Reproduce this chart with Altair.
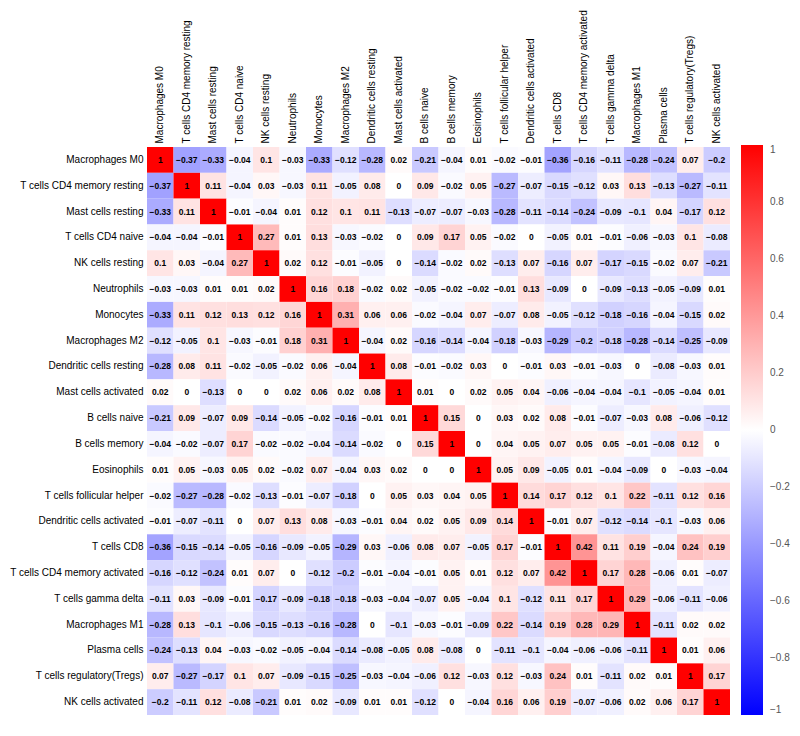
import altair as alt
import pandas as pd

cells = [
    "Macrophages M0", "T cells CD4 memory resting", "Mast cells resting", "T cells CD4 naive",
    "NK cells resting", "Neutrophils", "Monocytes", "Macrophages M2", "Dendritic cells resting",
    "Mast cells activated", "B cells naive", "B cells memory", "Eosinophils",
    "T cells follicular helper", "Dendritic cells activated", "T cells CD8",
    "T cells CD4 memory activated", "T cells gamma delta", "Macrophages M1", "Plasma cells",
    "T cells regulatory(Tregs)", "NK cells activated",
]

values = [
    [1, -0.37, -0.33, -0.04, 0.1, -0.03, -0.33, -0.12, -0.28, 0.02, -0.21, -0.04, 0.01, -0.02, -0.01, -0.36, -0.16, -0.11, -0.28, -0.24, 0.07, -0.2],
    [-0.37, 1, 0.11, -0.04, 0.03, -0.03, 0.11, -0.05, 0.08, 0, 0.09, -0.02, 0.05, -0.27, -0.07, -0.15, -0.12, 0.03, 0.13, -0.13, -0.27, -0.11],
    [-0.33, 0.11, 1, -0.01, -0.04, 0.01, 0.12, 0.1, 0.11, -0.13, -0.07, -0.07, -0.03, -0.28, -0.11, -0.14, -0.24, -0.09, -0.1, 0.04, -0.17, 0.12],
    [-0.04, -0.04, -0.01, 1, 0.27, 0.01, 0.13, -0.03, -0.02, 0, 0.09, 0.17, 0.05, -0.02, 0, -0.05, 0.01, -0.01, -0.06, -0.03, 0.1, -0.08],
    [0.1, 0.03, -0.04, 0.27, 1, 0.02, 0.12, -0.01, -0.05, 0, -0.14, -0.02, 0.02, -0.13, 0.07, -0.16, 0.07, -0.17, -0.15, -0.02, 0.07, -0.21],
    [-0.03, -0.03, 0.01, 0.01, 0.02, 1, 0.16, 0.18, -0.02, 0.02, -0.05, -0.02, -0.02, -0.01, 0.13, -0.09, 0, -0.09, -0.13, -0.05, -0.09, 0.01],
    [-0.33, 0.11, 0.12, 0.13, 0.12, 0.16, 1, 0.31, 0.06, 0.06, -0.02, -0.04, 0.07, -0.07, 0.08, -0.05, -0.12, -0.18, -0.16, -0.04, -0.15, 0.02],
    [-0.12, -0.05, 0.1, -0.03, -0.01, 0.18, 0.31, 1, -0.04, 0.02, -0.16, -0.14, -0.04, -0.18, -0.03, -0.29, -0.2, -0.18, -0.28, -0.14, -0.25, -0.09],
    [-0.28, 0.08, 0.11, -0.02, -0.05, -0.02, 0.06, -0.04, 1, 0.08, -0.01, -0.02, 0.03, 0, -0.01, 0.03, -0.01, -0.03, 0, -0.08, -0.03, 0.01],
    [0.02, 0, -0.13, 0, 0, 0.02, 0.06, 0.02, 0.08, 1, 0.01, 0, 0.02, 0.05, 0.04, -0.06, -0.04, -0.04, -0.1, -0.05, -0.04, 0.01],
    [-0.21, 0.09, -0.07, 0.09, -0.14, -0.05, -0.02, -0.16, -0.01, 0.01, 1, 0.15, 0, 0.03, 0.02, 0.08, -0.01, -0.07, -0.03, 0.08, -0.06, -0.12],
    [-0.04, -0.02, -0.07, 0.17, -0.02, -0.02, -0.04, -0.14, -0.02, 0, 0.15, 1, 0, 0.04, 0.05, 0.07, 0.05, 0.05, -0.01, -0.08, 0.12, 0],
    [0.01, 0.05, -0.03, 0.05, 0.02, -0.02, 0.07, -0.04, 0.03, 0.02, 0, 0, 1, 0.05, 0.09, -0.05, 0.01, -0.04, -0.09, 0, -0.03, -0.04],
    [-0.02, -0.27, -0.28, -0.02, -0.13, -0.01, -0.07, -0.18, 0, 0.05, 0.03, 0.04, 0.05, 1, 0.14, 0.17, 0.12, 0.1, 0.22, -0.11, 0.12, 0.16],
    [-0.01, -0.07, -0.11, 0, 0.07, 0.13, 0.08, -0.03, -0.01, 0.04, 0.02, 0.05, 0.09, 0.14, 1, -0.01, 0.07, -0.12, -0.14, -0.1, -0.03, 0.06],
    [-0.36, -0.15, -0.14, -0.05, -0.16, -0.09, -0.05, -0.29, 0.03, -0.06, 0.08, 0.07, -0.05, 0.17, -0.01, 1, 0.42, 0.11, 0.19, -0.04, 0.24, 0.19],
    [-0.16, -0.12, -0.24, 0.01, 0.07, 0, -0.12, -0.2, -0.01, -0.04, -0.01, 0.05, 0.01, 0.12, 0.07, 0.42, 1, 0.17, 0.28, -0.06, 0.01, -0.07],
    [-0.11, 0.03, -0.09, -0.01, -0.17, -0.09, -0.18, -0.18, -0.03, -0.04, -0.07, 0.05, -0.04, 0.1, -0.12, 0.11, 0.17, 1, 0.29, -0.06, -0.11, -0.06],
    [-0.28, 0.13, -0.1, -0.06, -0.15, -0.13, -0.16, -0.28, 0, -0.1, -0.03, -0.01, -0.09, 0.22, -0.14, 0.19, 0.28, 0.29, 1, -0.11, 0.02, 0.02],
    [-0.24, -0.13, 0.04, -0.03, -0.02, -0.05, -0.04, -0.14, -0.08, -0.05, 0.08, -0.08, 0, -0.11, -0.1, -0.04, -0.06, -0.06, -0.11, 1, 0.01, 0.06],
    [0.07, -0.27, -0.17, 0.1, 0.07, -0.09, -0.15, -0.25, -0.03, -0.04, -0.06, 0.12, -0.03, 0.12, -0.03, 0.24, 0.01, -0.11, 0.02, 0.01, 1, 0.17],
    [-0.2, -0.11, 0.12, -0.08, -0.21, 0.01, 0.02, -0.09, 0.01, 0.01, -0.12, 0, -0.04, 0.16, 0.06, 0.19, -0.07, -0.06, 0.02, 0.06, 0.17, 1],
]

legend_ticks = [1, 0.8, 0.6, 0.4, 0.2, 0, -0.2, -0.4, -0.6, -0.8, -1]

records = []
for i, r in enumerate(cells):
    for j, c in enumerate(cells):
        v = values[i][j]
        records.append({"row": r, "col": c, "value": v,
                        "label": f"{v:g}".replace("-", "\u2212")})
df = pd.DataFrame(records)

FONT = "Liberation Sans"

base = alt.Chart(df).encode(
    x=alt.X("col:N", sort=cells, title=None,
            scale=alt.Scale(paddingInner=0, paddingOuter=0),
            axis=alt.Axis(orient="top", labelAngle=-90, labelAlign="left", labelBaseline="middle",
                          domain=False, ticks=False, labelPadding=4, labelFontSize=10,
                          labelFont=FONT, labelColor="black", labelLimit=300)),
    y=alt.Y("row:N", sort=cells, title=None,
            scale=alt.Scale(paddingInner=0, paddingOuter=0),
            axis=alt.Axis(domain=False, ticks=False, labelPadding=4, labelFontSize=10,
                          labelFont=FONT, labelColor="black", labelLimit=300)),
)

heat = base.mark_rect().encode(
    color=alt.Color("value:Q",
                    scale=alt.Scale(domain=[-1, 0, 1], range=["#0000FF", "#FFFFFF", "#FF0000"],
                                    interpolate="rgb"),
                    legend=alt.Legend(orient="none", legendX=594, legendY=-2, direction="vertical",
                                      gradientLength=570, gradientThickness=22, values=legend_ticks,
                                      format="~g", title=None, labelFontSize=10, labelFont=FONT,
                                      labelColor="#555555", labelOffset=7,
                                      gradientStrokeWidth=0))
)

text = base.mark_text(font=FONT, fontWeight="bold", fontSize=8.5, color="black").encode(
    text="label:N"
)

chart = (heat + text).properties(
    width=583, height=568,
    autosize=alt.AutoSizeParams(type="none"),
    padding={"left": 139, "top": 139, "right": 62, "bottom": 10},
).configure_view(stroke=None)

chart.save("out.html", embed_options={"renderer": "svg", "actions": False})
